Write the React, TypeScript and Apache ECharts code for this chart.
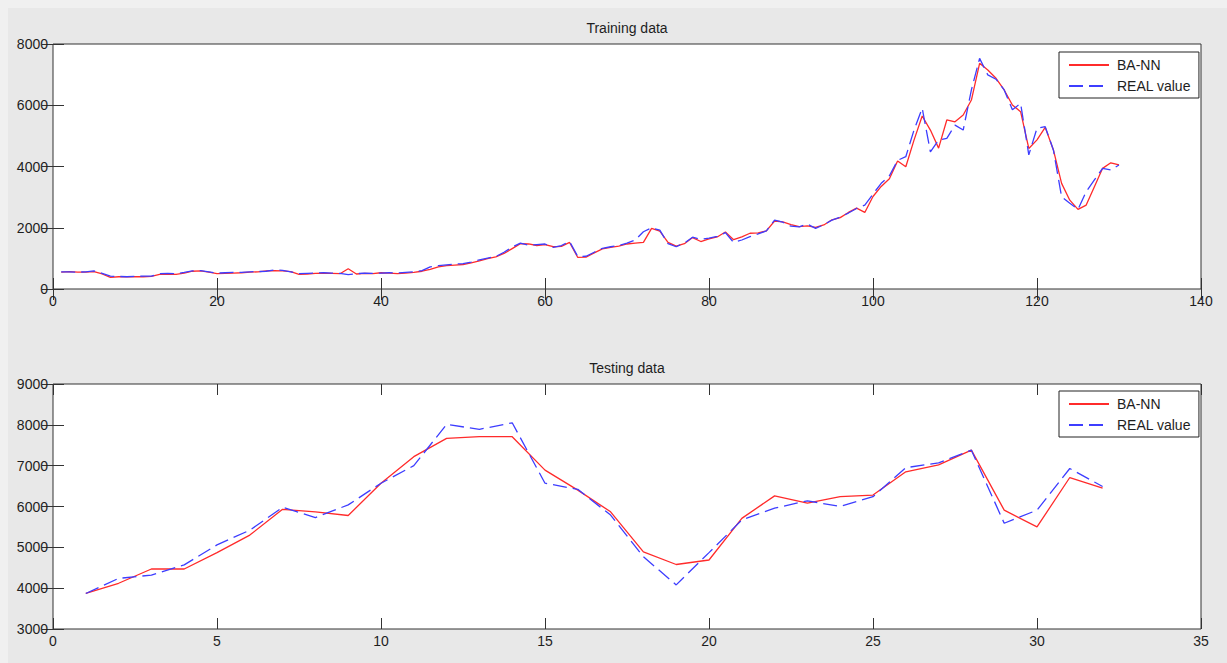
import React, { useEffect, useRef } from "react";
import * as echarts from "echarts";

// ---- Training data (x = 1..130) ----
const trainPred = [
  550, 570, 550, 550, 570, 490, 380, 400, 400, 400,
  400, 410, 480, 490, 480, 520, 580, 590, 550, 500,
  510, 520, 530, 550, 560, 590, 600, 590, 570, 480,
  490, 510, 520, 510, 500, 660, 490, 510, 500, 530,
  520, 500, 520, 540, 580, 640, 720, 760, 780, 800,
  850, 920, 990, 1050, 1160, 1320, 1480, 1470, 1420, 1450,
  1380, 1390, 1520, 1030, 1040, 1180, 1310, 1360, 1400, 1470,
  1500, 1520, 1980, 1890, 1520, 1400, 1480, 1680, 1550, 1640,
  1700, 1860, 1610, 1700, 1820, 1830, 1900, 2220, 2190, 2100,
  2040, 2060, 2010, 2090, 2260, 2330, 2500, 2640, 2500, 3020,
  3350, 3600, 4180, 3990, 4860, 5650, 5190, 4600, 5520, 5460,
  5680, 6170, 7370, 7150, 6880, 6500, 6010, 5790, 4590, 4870,
  5280, 4540, 3450, 2900, 2600, 2740, 3340, 3940, 4120, 4050,
];
const trainReal = [
  560, 560, 550, 560, 590, 510, 420, 410, 400, 410,
  420, 420, 500, 510, 500, 540, 590, 600, 560, 520,
  530, 540, 540, 560, 570, 580, 620, 610, 560, 500,
  510, 520, 530, 520, 510, 470, 500, 520, 510, 520,
  530, 520, 540, 560, 600, 720, 760, 790, 810, 830,
  880, 950, 1010, 1060, 1200, 1370, 1500, 1430, 1450, 1470,
  1360, 1420, 1550, 1060, 1070, 1200, 1330, 1380, 1420, 1500,
  1600, 1870, 2000, 1920, 1480, 1380, 1500, 1690, 1620, 1660,
  1720, 1840, 1520, 1600, 1710, 1800, 1900, 2250, 2180, 2050,
  2030, 2120, 1980, 2100, 2250, 2350, 2480, 2630, 2740, 3100,
  3450, 3700, 4200, 4320, 5190, 5900, 4480, 4860, 4920, 5350,
  5190, 6500, 7530, 6990, 6850, 6500, 5850, 6060, 4380, 5250,
  5300, 4540, 3010, 2800, 2600, 3180, 3560, 3940, 3890, 4050,
];

// ---- Testing data (x = 1..32) ----
const testPred = [
  3870, 4120, 4470, 4470, 4870, 5300, 5930, 5870, 5780, 6570,
  7220, 7670, 7710, 7710, 6890, 6400, 5870, 4890, 4580, 4690,
  5710, 6260, 6080, 6240, 6280, 6850, 7020, 7380, 5910, 5500,
  6710, 6450,
];
const testReal = [
  3870, 4240, 4320, 4570, 5060, 5420, 5980, 5730, 6040, 6570,
  7000, 8010, 7890, 8050, 6570, 6420, 5790, 4770, 4080, 4870,
  5670, 5960, 6140, 6000, 6240, 6950, 7070, 7380, 5590, 5910,
  6930, 6490,
];

const seriesNames = ["BA-NN", "REAL value"];
const titles = ["Training data", "Testing data"];
const trainXRange = [0, 140, 20];
const trainYRange = [0, 8000, 2000];
const testXRange = [0, 35, 5];
const testYRange = [3000, 9000, 1000];

const FONT = "'Liberation Sans', Arial, Helvetica, sans-serif";
const TXT = "#1e1e1e";
const AX = "#333333";
const RED = "#ff2b2b";
const BLUE = "#3d3dff";

const toPairs = (arr: number[]) => arr.map((v, i) => [i + 1, v]);

export default function App() {
  const ref = useRef<HTMLDivElement>(null);

  useEffect(() => {
    if (!ref.current) return;
    const chart = echarts.init(ref.current, undefined, { renderer: "svg" });

    const L = 53, W = 1148, H = 245;
    const tops = [44, 384];

    const mkX = (grid: number, r: number[], primary: boolean) => ({
      type: "value",
      gridIndex: grid,
      min: r[0],
      max: r[1],
      interval: r[2],
      position: primary ? "bottom" : "top",
      axisLine: { show: false },
      splitLine: { show: false },
      axisTick: { show: true, inside: true, length: 11, lineStyle: { color: AX, width: 1 } },
      axisLabel: {
        show: primary,
        color: TXT,
        fontSize: 14,
        fontFamily: FONT,
        margin: 5,
        formatter: (v: number) => String(v),
      },
    });
    const mkY = (grid: number, r: number[], primary: boolean) => ({
      type: "value",
      gridIndex: grid,
      min: r[0],
      max: r[1],
      interval: r[2],
      position: primary ? "left" : "right",
      axisLine: { show: false },
      splitLine: { show: false },
      axisTick: { show: true, inside: true, length: 11, lineStyle: { color: AX, width: 1 } },
      axisLabel: {
        show: primary,
        color: TXT,
        fontSize: 14,
        fontFamily: FONT,
        margin: 5,
        formatter: (v: number) => String(v),
      },
    });

    const mkLegend = (top: number) => ({
      data: seriesNames,
      orient: "vertical",
      left: 1059,
      top,
      padding: [6, 8, 5, 9],
      itemGap: 7,
      itemWidth: 40,
      itemHeight: 14,
      backgroundColor: "#ffffff",
      borderColor: "#222222",
      borderWidth: 1,
      borderRadius: 0,
      selectedMode: false,
      itemStyle: { opacity: 0, borderWidth: 0 },
      textStyle: { fontSize: 14, color: TXT, fontFamily: FONT, padding: [0, 0, 0, 3] },
    });

    const mkSeries = (name: string, data: number[], xi: number, yi: number, real: boolean) => ({
      type: "line",
      name,
      xAxisIndex: xi,
      yAxisIndex: yi,
      data: toPairs(data),
      symbol: "none",
      showSymbol: false,
      lineStyle: real
        ? { color: BLUE, width: 1.3, type: [14, 6] }
        : { color: RED, width: 1.3, type: "solid" },
      itemStyle: { color: real ? BLUE : RED },
      emphasis: { disabled: true },
    });

    chart.setOption({
      animation: false,
      backgroundColor: "#e8e8e8",
      grid: tops.map((t) => ({
        left: L,
        top: t,
        width: W,
        height: H,
        show: true,
        backgroundColor: "#ffffff",
        borderColor: AX,
        borderWidth: 1,
      })),
      xAxis: [
        mkX(0, trainXRange, true),
        mkX(0, trainXRange, false),
        mkX(1, testXRange, true),
        mkX(1, testXRange, false),
      ],
      yAxis: [
        mkY(0, trainYRange, true),
        mkY(0, trainYRange, false),
        mkY(1, testYRange, true),
        mkY(1, testYRange, false),
      ],
      legend: [mkLegend(52), mkLegend(391)],
      graphic: [
        { type: "rect", shape: { x: 0, y: 0, width: 1227, height: 8 }, style: { fill: "#f0f0f0" }, silent: true },
        { type: "rect", shape: { x: 0, y: 0, width: 8, height: 663 }, style: { fill: "#f0f0f0" }, silent: true },
        {
          type: "text",
          x: L + W / 2,
          y: 28,
          style: { text: titles[0], align: "center", verticalAlign: "middle", fontSize: 14, fontFamily: FONT, fill: TXT },
          silent: true,
        },
        {
          type: "text",
          x: L + W / 2,
          y: 368,
          style: { text: titles[1], align: "center", verticalAlign: "middle", fontSize: 14, fontFamily: FONT, fill: TXT },
          silent: true,
        },
      ],
      series: [
        mkSeries(seriesNames[0], trainPred, 0, 0, false),
        mkSeries(seriesNames[1], trainReal, 0, 0, true),
        mkSeries(seriesNames[0], testPred, 2, 2, false),
        mkSeries(seriesNames[1], testReal, 2, 2, true),
      ],
    });

    return () => chart.dispose();
  }, []);

  return (
    <div
      ref={ref}
      style={{ position: "absolute", left: 0, top: 0, width: 1227, height: 663 }}
    />
  );
}
